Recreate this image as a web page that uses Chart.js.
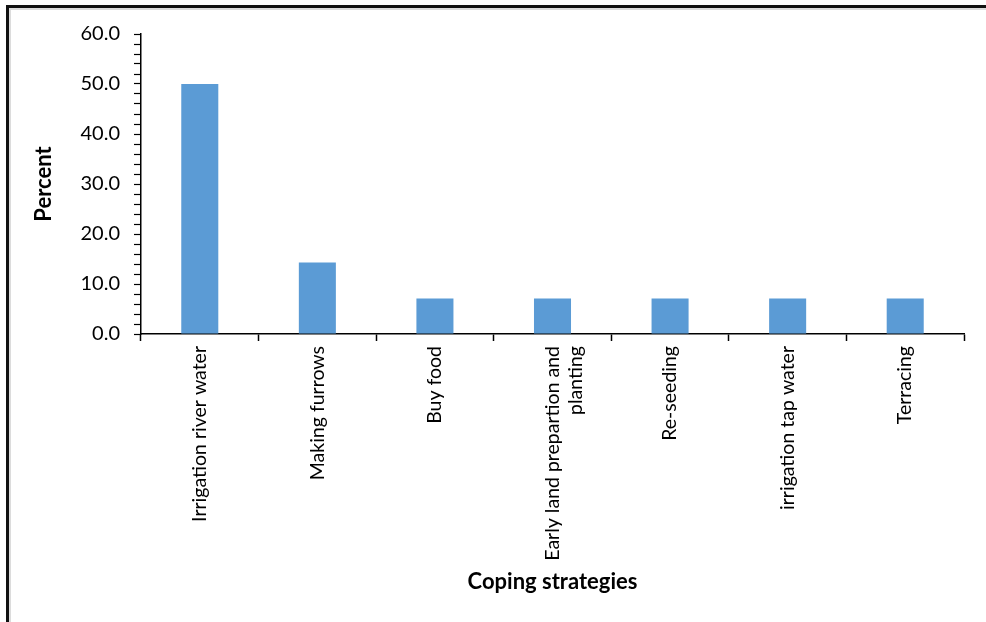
<!DOCTYPE html>
<html>
<head>
<meta charset="utf-8">
<script src="https://cdn.jsdelivr.net/npm/chart.js@4/dist/chart.umd.min.js"></script>
<style>
  html, body { margin: 0; padding: 0; background: #fff; overflow: hidden; }
  #frame {
    position: absolute; left: 6px; top: 5px;
    width: 1000px; height: 700px;
    border: 3px solid #111;
    box-shadow: inset 2px 2px 0 #dcdcdc;
  }
  #chart { position: absolute; left: 0; top: 0; }
</style>
</head>
<body>
<div id="frame"></div>
<canvas id="chart" width="986" height="622"></canvas>
<script>
const strategies = [
    'Irrigation river water',
    'Making furrows',
    'Buy food',
    ['Early land prepartion and', 'planting'],
    'Re-seeding',
    'irrigation tap water',
    'Terracing'
];
const percents = [50.0, 14.3, 7.1, 7.1, 7.1, 7.1, 7.1];
const yMin = 0;
const yMax = 60;
const yStep = 2;      // minor tick spacing
const yLabelStep = 10; // labelled ticks

const labelFont = "Lato, 'Open Sans', sans-serif";

const ctx = document.getElementById('chart').getContext('2d');

new Chart(ctx, {
    type: 'bar',
    data: {
        labels: strategies,
        datasets: [{
            data: percents,
            backgroundColor: '#5b9bd5',
            borderWidth: 0,
            categoryPercentage: 1,
            barPercentage: 0.315
        }]
    },
    options: {
        responsive: false,
        animation: false,
        layout: {
            padding: { left: 0, top: 34, right: 22, bottom: 0 }
        },
        plugins: {
            legend: { display: false },
            tooltip: { enabled: false }
        },
        scales: {
            x: {
                grid: {
                    offset: true,
                    drawOnChartArea: false,
                    drawTicks: true,
                    tickLength: 7,
                    tickColor: '#000',
                    tickWidth: 1.5
                },
                border: { display: true, color: '#000', width: 1.5 },
                ticks: {
                    minRotation: 90,
                    maxRotation: 90,
                    autoSkip: false,
                    padding: 5,
                    color: '#000',
                    font: { family: labelFont, size: 19.5 },
                    lineHeight: 1.45
                },
                title: {
                    display: true,
                    text: 'Coping strategies',
                    color: '#000',
                    font: { family: labelFont, size: 22, weight: 'bold' },
                    padding: { top: 0, bottom: 27 }
                },
                afterFit: scale => { scale.height = 288; }
            },
            y: {
                min: yMin,
                max: yMax,
                grid: {
                    drawOnChartArea: false,
                    drawTicks: true,
                    tickLength: 7,
                    tickColor: '#000',
                    tickWidth: 1.2
                },
                border: { display: true, color: '#000', width: 1.5 },
                ticks: {
                    stepSize: yStep,
                    autoSkip: false,
                    padding: 14,
                    color: '#000',
                    font: { family: labelFont, size: 20 },
                    callback: v => (v % yLabelStep === 0 ? v.toFixed(1) : '')
                },
                title: {
                    display: true,
                    text: 'Percent',
                    color: '#000',
                    font: { family: labelFont, size: 22, weight: 'bold' },
                    padding: { top: 31, bottom: 0 }
                },
                afterFit: scale => { scale.width = 141; }
            }
        }
    }
});
</script>
</body>
</html>
